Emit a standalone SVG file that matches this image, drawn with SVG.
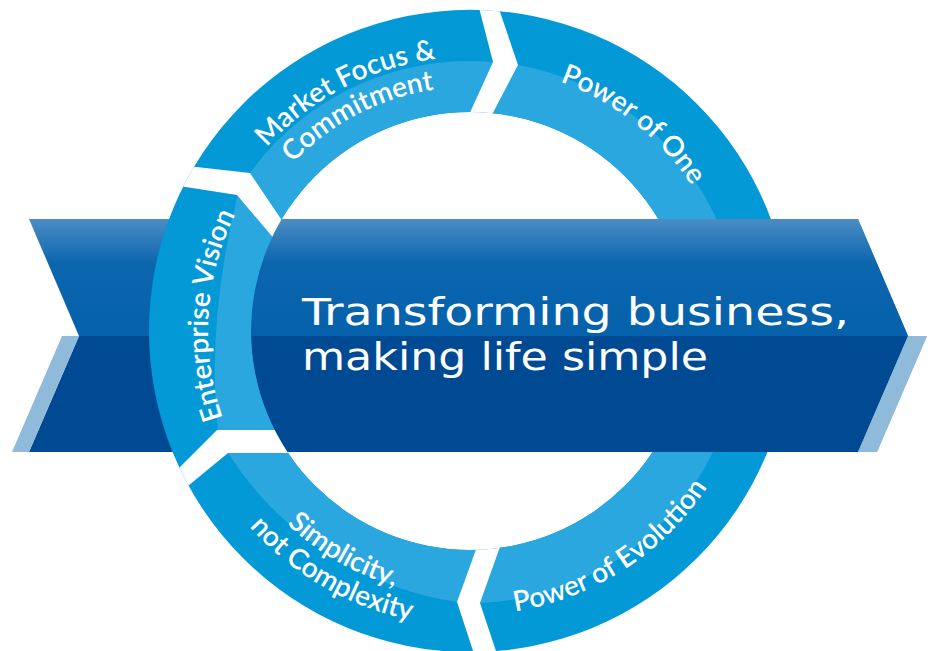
<svg xmlns="http://www.w3.org/2000/svg" width="933" height="651" viewBox="0 0 933 651">
<defs>
<style>
.dark{fill:#0399d6;}
.light{fill:#29a7de;}
.lbl{font-family:Lato,"Open Sans","DejaVu Sans",sans-serif;font-weight:600;font-size:28px;fill:#ffffff;}
.main{font-family:"DejaVu Sans",Verdana,sans-serif;font-size:37px;fill:#ffffff;}
.sep{fill:#ffffff;}
</style>
<linearGradient id="gTop" gradientUnits="userSpaceOnUse" x1="0" y1="219" x2="0" y2="336">
<stop offset="0" stop-color="#4b8dc5"/>
<stop offset="0.38" stop-color="#0c66ae"/>
<stop offset="1" stop-color="#0561ab"/>
</linearGradient>
<clipPath id="annulus"><path clip-rule="evenodd" d="M149,331 a321,321 0 1,0 642,0 a321,321 0 1,0 -642,0 Z M251,331 a219,219 0 1,0 438,0 a219,219 0 1,0 -438,0 Z"/></clipPath>
<clipPath id="rightHalf"><rect x="470" y="0" width="463" height="651"/></clipPath>
<g id="bannerShape">
<polygon fill="url(#gTop)" points="29,219 858,219 908,336 79,336"/>
<polygon fill="#004a93" points="79,336 908,336 858,452 29,452"/>
<polygon fill="#90bada" points="62,336 79,336 29,452 12,452"/>
<polygon fill="#90bada" points="908,336 927,336 877,452 858,452"/>
</g>
<path id="pA1" d="M196.26,319.09 A274,274 0 0 1 617.22,99.91"/>
<path id="pA2" d="M226.24,320.36 A244,244 0 0 1 601.10,125.22"/>
<path id="pB" d="M372.02,84.78 A265,265 0 0 1 732.23,369.26"/>
<path id="pC" d="M340.63,583.82 A284,284 0 0 0 753.64,316.63"/>
<path id="pD1" d="M204,331 A266,266 0 0 0 603,561.36"/>
<path id="pD2" d="M175,331 A295,295 0 0 0 617.5,586.48"/>
<path id="pE" d="M325.39,549.48 A262,262 0 0 1 353.10,96.53"/>
</defs>

<use id="banner-back" href="#bannerShape"/>

<g id="ring">
<path class="dark" fill-rule="evenodd" d="M149,331 a321,321 0 1,0 642,0 a321,321 0 1,0 -642,0 Z M251,331 a219,219 0 1,0 438,0 a219,219 0 1,0 -438,0 Z"/>

<g id="seg-market-focus">
<path class="light" clip-path="url(#annulus)" d="M250,173 A271,271 0 0 1 493,62 L462,130 L470,331 L300,247 Z"/>
<text class="lbl"><textPath href="#pA1" startOffset="50%" text-anchor="middle">Market Focus &amp;</textPath></text>
<text class="lbl"><textPath href="#pA2" startOffset="50%" text-anchor="middle">Commitment</textPath></text>
</g>

<g id="seg-power-of-one">
<path class="light" clip-path="url(#annulus)" d="M518,65 A271,271 0 0 1 741,331 L470,331 L484,130 Z"/>
<text class="lbl"><textPath href="#pB" startOffset="50%" text-anchor="middle">Power of One</textPath></text>
</g>

<g id="seg-power-of-evolution">
<path class="light" clip-path="url(#annulus)" d="M741,331 A271,271 0 0 1 480,603 L506,530 L470,331 Z"/>
<text class="lbl"><textPath href="#pC" startOffset="50%" text-anchor="middle">Power of Evolution</textPath></text>
</g>

<g id="seg-simplicity">
<path class="light" clip-path="url(#annulus)" d="M457,602 A330,330 0 0 1 228,453 L320,453 L470,331 L483,530 Z"/>
<text class="lbl"><textPath href="#pD1" startOffset="50%" text-anchor="middle">Simplicity,</textPath></text>
<text class="lbl"><textPath href="#pD2" startOffset="50%" text-anchor="middle">not Complexity</textPath></text>
</g>

<g id="seg-enterprise-vision">
<path class="light" clip-path="url(#annulus)" d="M218,430 Q206,324 238,193 L287,254 L470,331 L320,430 Z"/>
<text class="lbl"><textPath href="#pE" startOffset="50%" text-anchor="middle">Enterprise Vision</textPath></text>
</g>
</g>

<g id="separators" clip-path="url(#annulus)">
<polygon class="sep" points="477,0 493,62 462,130 484,130 518,65 496,0"/>
<polygon class="sep" points="170,164 250,173 300,247 287,254 237,195 160,183"/>
<polygon class="sep" points="160,487 217,430 320,430 320,453 228,453 160,509"/>
<polygon class="sep" points="483,530 457,602 476,660 499,660 480,603 506,530"/>
</g>

<use id="banner-front" href="#bannerShape" clip-path="url(#rightHalf)"/>

<g id="tagline">
<text class="main" x="302" y="325" textLength="547" lengthAdjust="spacingAndGlyphs">Transforming business,</text>
<text class="main" x="302" y="370" textLength="406" lengthAdjust="spacingAndGlyphs">making life simple</text>
</g>
</svg>
